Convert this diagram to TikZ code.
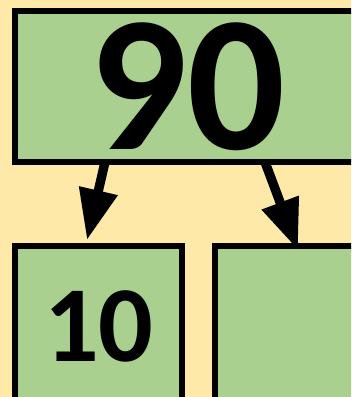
\documentclass[tikz,border=0pt]{standalone}
\usepackage{fontspec}
\setmainfont{Carlito}
\usetikzlibrary{arrows.meta, calc}
\definecolor{paper}{HTML}{FFE9A9}
\definecolor{leaf}{HTML}{A9D08E}
\tikzset{
  cell/.style={draw, fill=leaf, line width=4.5pt, outer sep=0pt, inner sep=0pt},
  kid/.style={cell, minimum width=124.9pt, minimum height=120pt, font=\bfseries\fontsize{81}{81}\selectfont},
  link/.style={line width=7pt, -{Triangle[length=38pt, width=28pt]}}
}
\begin{document}
\begin{tikzpicture}[x=0.75pt, y=-0.75pt]
  \fill[paper] (0,0) rectangle (351,397);
  \useasboundingbox (0,0) rectangle (351,397);
  \clip (0,0) rectangle (351,397);

  \node[cell, minimum width=258.75pt, minimum height=113.25pt, font=\bfseries\fontsize{145}{145}\selectfont] (root) at (187.5,86.5) {\raisebox{-7pt}{90}};
  \node[kid] (leftkid) at (98.75,326) {10};
  \node[kid] (rightkid) at (298.75,326) {};

  \draw[link] ($(root.south)+(-82.5,0)$) -- ($(leftkid.north)+(-11.75,-6)$);
  \draw[link] ($(root.south)+(77.5,0)$) -- ($(rightkid.north)+(-0.75,4)$);
\end{tikzpicture}
\end{document}
